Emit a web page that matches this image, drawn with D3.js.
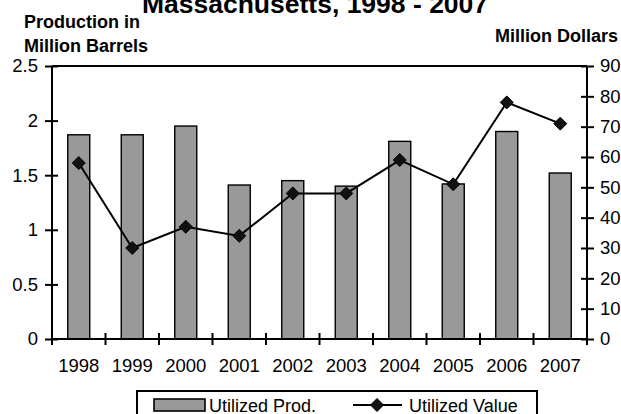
<!DOCTYPE html>
<html>
<head>
<meta charset="utf-8">
<script src="https://cdn.jsdelivr.net/npm/d3@7/dist/d3.min.js"></script>
<style>
  html, body { margin: 0; padding: 0; background: #fff; }
  svg { display: block; font-family: "Liberation Sans", Arial, sans-serif; }
</style>
</head>
<body>
<svg id="chart" width="621" height="414"></svg>
<script>
const years = ["1998","1999","2000","2001","2002","2003","2004","2005","2006","2007"];
const production = [1.87, 1.87, 1.95, 1.41, 1.45, 1.40, 1.81, 1.42, 1.90, 1.52];
const value = [58, 30, 37, 34, 48, 48, 59, 51, 78, 71];
const leftTicks = [0, 0.5, 1, 1.5, 2, 2.5];
const rightTicks = [0, 10, 20, 30, 40, 50, 60, 70, 80, 90];
const titleText = "Massachusetts, 1998 - 2007";
const leftLabel = ["Production in", "Million Barrels"];
const rightLabel = "Million Dollars";
const legendLabels = ["Utilized Prod.", "Utilized Value"];

const svg = d3.select("#chart");
const m = { left: 52, right: 587, top: 66, bottom: 339 };
const tickFont = 18.5;

const x = d3.scaleBand().domain(years).range([m.left, m.right]).paddingInner(0).paddingOuter(0);
const yL = d3.scaleLinear().domain([0, 2.5]).range([m.bottom, m.top]);
const yR = d3.scaleLinear().domain([0, 90]).range([m.bottom, m.top]);

// Title
svg.append("text").attr("x", 315).attr("y", 13).attr("text-anchor", "middle")
  .attr("font-size", 26.5).attr("font-weight", "bold").text(titleText);

// Axis titles
svg.append("text").attr("x", 24).attr("y", 28).attr("font-size", 18).attr("font-weight", "bold").text(leftLabel[0]);
svg.append("text").attr("x", 24).attr("y", 52).attr("font-size", 18).attr("font-weight", "bold").text(leftLabel[1]);
svg.append("text").attr("x", 618).attr("y", 42).attr("text-anchor", "end").attr("font-size", 18).attr("font-weight", "bold").text(rightLabel);

// Bars
const bw = 22;
svg.append("g").selectAll("rect").data(production).join("rect")
  .attr("x", (d, i) => x(years[i]) + x.bandwidth() / 2 - bw / 2)
  .attr("y", d => yL(d))
  .attr("width", bw)
  .attr("height", d => yL(0) - yL(d))
  .attr("fill", "#999999")
  .attr("stroke", "#000")
  .attr("stroke-width", 1.4);

// Top border line
svg.append("line").attr("x1", m.left).attr("x2", m.right).attr("y1", m.top).attr("y2", m.top)
  .attr("stroke", "#000").attr("stroke-width", 2);

// Left axis
const gL = svg.append("g").attr("transform", `translate(${m.left},0)`)
  .call(d3.axisLeft(yL).tickValues(leftTicks).tickSize(7).tickPadding(7).tickFormat(d3.format("")));
gL.select(".domain").attr("stroke-width", 2).attr("d", `M0,${m.top}V${m.bottom + 6}`);
gL.selectAll(".tick line").attr("x2", -7).attr("x1", 6).attr("stroke-width", 2);
gL.selectAll(".tick text").attr("font-size", tickFont).attr("font-family", "Liberation Sans, Arial, sans-serif").attr("fill", "#000");

// Right axis
const gR = svg.append("g").attr("transform", `translate(${m.right},0)`)
  .call(d3.axisRight(yR).tickValues(rightTicks).tickSize(7).tickPadding(6));
gR.select(".domain").attr("stroke-width", 2).attr("d", `M0,${m.top}V${m.bottom}`);
gR.selectAll(".tick line").attr("x1", -6).attr("x2", 7).attr("stroke-width", 2);
gR.selectAll(".tick text").attr("font-size", tickFont).attr("font-family", "Liberation Sans, Arial, sans-serif").attr("fill", "#000");

// Bottom axis with ticks at band boundaries
const gB = svg.append("g").attr("transform", `translate(0,${m.bottom})`)
  .call(d3.axisBottom(x).tickSize(0).tickPadding(20));
gB.select(".domain").attr("stroke-width", 2).attr("d", `M${m.left},0H${m.right}`);
gB.selectAll(".tick text").attr("font-size", tickFont).attr("font-family", "Liberation Sans, Arial, sans-serif").attr("fill", "#000");
const bounds = years.map(y => x(y)).concat([x(years[years.length - 1]) + x.bandwidth()]);
gB.selectAll(".btick").data(bounds).join("line").attr("class", "btick")
  .attr("x1", d => d).attr("x2", d => d).attr("y1", -6).attr("y2", 6)
  .attr("stroke", "#000").attr("stroke-width", 2);

// Line series
const cx = (d, i) => x(years[i]) + x.bandwidth() / 2;
const line = d3.line().x((d, i) => cx(d, i)).y(d => yR(d));
svg.append("path").datum(value).attr("d", line).attr("fill", "none").attr("stroke", "#000").attr("stroke-width", 2);
const diamond = s => `M0,${-s}L${s},0L0,${s}L${-s},0Z`;
svg.append("g").selectAll("path").data(value).join("path")
  .attr("transform", (d, i) => `translate(${cx(d, i)},${yR(d)})`)
  .attr("d", diamond(6.5)).attr("fill", "#111").attr("stroke", "#000").attr("stroke-width", 1);

// Legend
const lg = svg.append("g");
lg.append("rect").attr("x", 137).attr("y", 391).attr("width", 400).attr("height", 40)
  .attr("fill", "#fff").attr("stroke", "#000").attr("stroke-width", 2);
lg.append("rect").attr("x", 154).attr("y", 399).attr("width", 51).attr("height", 12)
  .attr("fill", "#999999").attr("stroke", "#000").attr("stroke-width", 1.6);
lg.append("text").attr("x", 209).attr("y", 412).attr("font-size", 18).text(legendLabels[0]);
lg.append("line").attr("x1", 353).attr("x2", 402).attr("y1", 405).attr("y2", 405).attr("stroke", "#000").attr("stroke-width", 2);
lg.append("path").attr("transform", "translate(377,405)").attr("d", diamond(6.5)).attr("fill", "#111").attr("stroke", "#000");
lg.append("text").attr("x", 409).attr("y", 412).attr("font-size", 18).text(legendLabels[1]);
</script>
</body>
</html>
